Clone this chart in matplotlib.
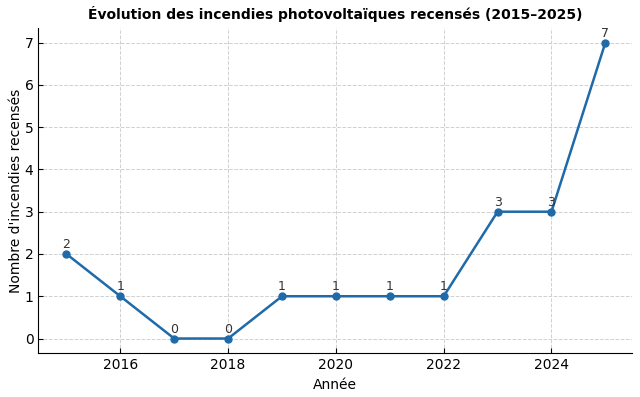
import matplotlib
matplotlib.use("Agg")
import matplotlib.pyplot as plt

years = [2015, 2016, 2017, 2018, 2019, 2020, 2021, 2022, 2023, 2024, 2025]
counts = [2, 1, 0, 0, 1, 1, 1, 1, 3, 3, 7]
title = "Évolution des incendies photovoltaïques recensés (2015–2025)"
xlabel = "Année"
ylabel = "Nombre d'incendies recensés"

fig, ax = plt.subplots(figsize=(6.4, 3.97), dpi=100)
ax.plot(years, counts, marker="o", color="#1f6aa8", linewidth=1.8, markersize=5)
for x, y in zip(years, counts):
    ax.annotate(str(y), (x, y), textcoords="offset points", xytext=(0, 2),
                ha="center", va="bottom", fontsize=9, color="#333333")
ax.set_title(title, fontsize=10, fontweight="bold")
ax.set_xlabel(xlabel, fontsize=10)
ax.set_ylabel(ylabel, fontsize=10, labelpad=1)
ax.grid(True, linestyle="--", color="#d0d0d0", linewidth=0.7)
ax.spines["top"].set_visible(False)
ax.spines["right"].set_visible(False)
ax.tick_params(direction="in", labelsize=10)
ax.set_xlim(2014.48, 2025.5)
ax.set_ylim(-0.35, 7.35)
fig.subplots_adjust(left=0.06, right=0.988, top=0.93, bottom=0.11)
fig.savefig("out.png", dpi=100)
